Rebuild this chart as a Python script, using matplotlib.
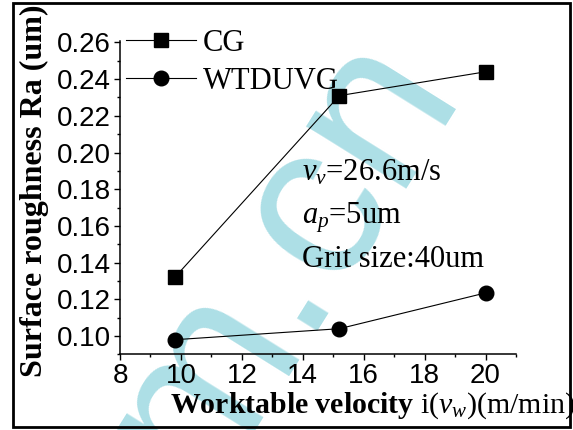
import matplotlib
matplotlib.use("Agg")
import matplotlib.pyplot as plt
from matplotlib.patches import Rectangle
from matplotlib.ticker import MultipleLocator

# data
velocity = [9.8, 15.2, 20.0]
ra_cg = [0.132, 0.231, 0.244]
ra_wtduvg = [0.098, 0.104, 0.1235]
x_ticks = [8, 10, 12, 14, 16, 18, 20]
y_ticks = [0.10, 0.12, 0.14, 0.16, 0.18, 0.20, 0.22, 0.24, 0.26]

plt.rcParams['font.family'] = 'Liberation Serif'
plt.rcParams['mathtext.fontset'] = 'custom'
plt.rcParams['mathtext.rm'] = 'Liberation Serif'
plt.rcParams['mathtext.it'] = 'Liberation Serif:italic'
plt.rcParams['mathtext.bf'] = 'Liberation Serif:bold'

W, H = 573, 430
fig = plt.figure(figsize=(W / 100, H / 100), dpi=100)
ax = fig.add_axes([120 / W, 1 - 354.4 / H, (516 - 120) / W, (354.4 - 40.6) / H])
ax.patch.set_alpha(0)

# watermark
ax.text(330 / W, 1 - 288 / H, "m.cn", transform=fig.transFigure, fontsize=160,
        family='Liberation Sans', color='#addfe6', rotation=58,
        rotation_mode='anchor', ha='center', va='baseline', zorder=0, clip_on=False)

ax.plot(velocity, ra_cg, color='black', lw=0.8, marker='s', ms=10, label='CG', zorder=3)
ax.plot(velocity, ra_wtduvg, color='black', lw=0.8, marker='o', ms=10.5, label='WTDUVG', zorder=3)

ax.set_xlim(8, 21)
ax.set_ylim(0.09, 0.261)
ax.set_xticks(x_ticks)
ax.set_yticks(y_ticks)
ax.set_yticklabels(['%.2f' % v for v in y_ticks])
ax.xaxis.set_minor_locator(MultipleLocator(1))
ax.yaxis.set_minor_locator(MultipleLocator(0.01))
for s in ['top', 'right']:
    ax.spines[s].set_visible(False)
for s in ['left', 'bottom']:
    ax.spines[s].set_linewidth(1.1)
ax.tick_params(which='major', length=4.5, width=1.0, direction='out', pad=2,
               labelsize=20, labelfontfamily='Liberation Sans')
ax.tick_params(which='minor', length=2.3, width=1.0, direction='out')

leg = ax.legend(loc='upper left', bbox_to_anchor=(126 / W, 1 - 29 / H),
                bbox_transform=fig.transFigure, frameon=False, borderpad=0,
                borderaxespad=0, handlelength=2.3, handletextpad=0.2,
                labelspacing=0.3, numpoints=1,
                prop={'family': 'Liberation Serif', 'size': 22})

# annotations
fig.text(302 / W, 1 - 180 / H, r"$\mathit{v}_{\mathit{v}}$=26.6m/s", fontsize=22, va='baseline')
fig.text(302 / W, 1 - 223 / H, r"$\mathit{a}_{\mathit{p}}$=5um", fontsize=22, va='baseline')
fig.text(302 / W, 1 - 267 / H, "Grit size:40um", fontsize=22, va='baseline')

# axis titles
fig.text(170 / W, 1 - 413 / H, r"$\mathbf{Worktable\ velocity}$ i($\mathit{v}_{\mathit{w}}$)(m/min)",
         fontsize=21.5, va='baseline', ha='left')
fig.text(42 / W, 1 - 377 / H, "Surface roughness Ra (um)", fontsize=23,
         weight='bold', rotation=90, rotation_mode='anchor', ha='left', va='baseline')

# outer frame
fig.patches.append(Rectangle((13 / W, 3 / H), 557 / W, 424 / H, transform=fig.transFigure,
                             fill=False, edgecolor='black', lw=2))

fig.savefig("out.png", dpi=100)
